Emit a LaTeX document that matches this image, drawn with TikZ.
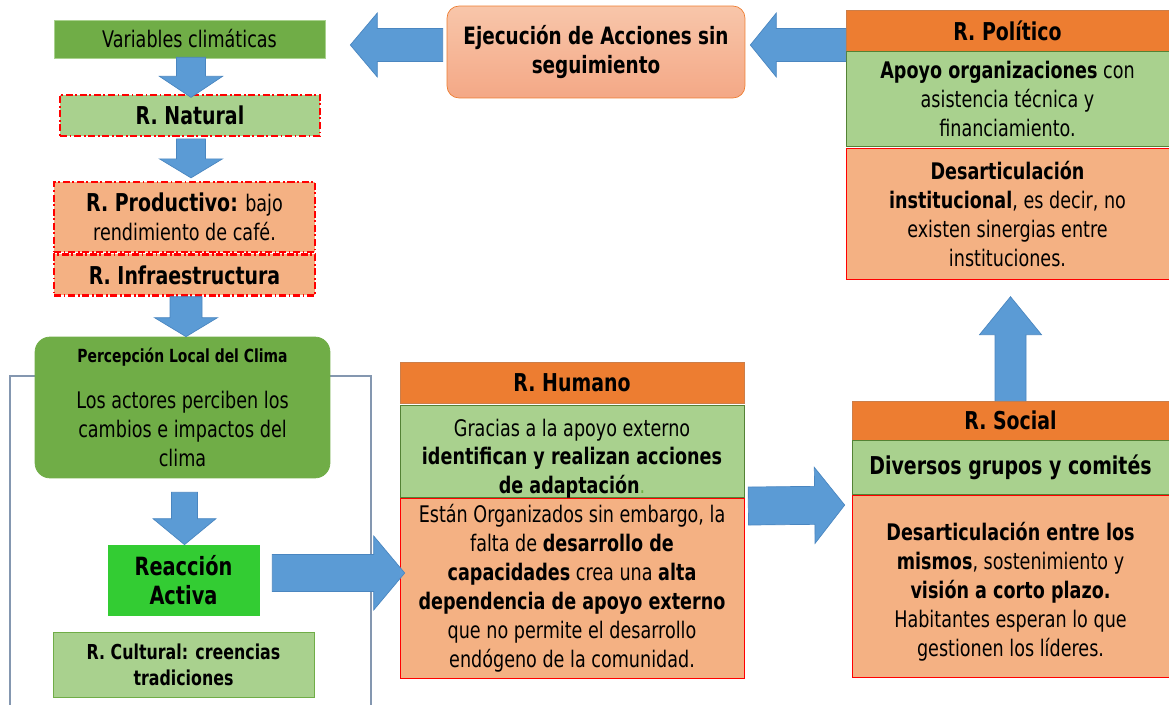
\documentclass[tikz,border=0pt]{standalone}
\usepackage{fontspec}
\setmainfont{DejaVu Sans}[FakeStretch=0.77]
\usepackage{tikz}
\usetikzlibrary{calc}
\usepackage{xcolor}

\definecolor{grdark}{HTML}{70AD47}
\definecolor{grlight}{HTML}{A9D18E}
\definecolor{grline}{HTML}{548235}
\definecolor{orhead}{HTML}{ED7D31}
\definecolor{salmon}{HTML}{F4B183}
\definecolor{grbright}{HTML}{33CC33}
\definecolor{arrblue}{HTML}{5B9BD5}
\definecolor{arrline}{HTML}{4A86C0}
\definecolor{framegray}{HTML}{8497B0}
\definecolor{ejtop}{HTML}{F8C6AA}
\definecolor{ejbot}{HTML}{F4A886}

\tikzset{
  box/.style={draw,inner sep=0pt,align=center,text=black},
  redborder/.style={draw=red,dash pattern=on 4pt off 1.5pt on 1pt off 1.5pt},
  boldtext/.style={font=\fontsize{14}{17}\selectfont\bfseries},
  headbox/.style={box,boldtext,fill=orhead,draw=orhead!70!gray},
  greenbox/.style={box,fill=grlight,draw=grline},
  salmonbox/.style={box,fill=salmon,draw=red},
  arrowfill/.style={fill=arrblue,draw=arrline,line width=0.4pt}
}

% block arrow: start, tip, half shaft, half head, head length
\newcommand{\blockarrow}[5]{%
  \coordinate (hb) at ($(#2)!#5!(#1)$);
  \filldraw[arrowfill] ($(#1)!#3!90:(#2)$) -- ($(hb)!#3!90:(#2)$) -- ($(hb)!#4!90:(#2)$)
    -- (#2) -- ($(hb)!#4!-90:(#2)$) -- ($(hb)!#3!-90:(#2)$) -- ($(#1)!#3!-90:(#2)$) -- cycle;}

\begin{document}
\begin{tikzpicture}[x=0.02cm,y=-0.02cm,font=\fontsize{13}{16.5}\selectfont]
\useasboundingbox (0,0) rectangle (1169,705);

% frame behind the perception block
\draw[framegray,line width=0.6pt] (10,705) -- (10,376) -- (371,376) -- (371,705);

% left column
\node[box,fill=grdark,draw=grlight,minimum width=5.42cm,minimum height=0.76cm] (var) at (189.5,39) {Variables climáticas};
\node[box,redborder,boldtext,fill=grlight,line width=1pt,minimum width=5.2cm,minimum height=0.82cm] (nat) at (190,115.5) {R. Natural};
\node[box,redborder,fill=salmon,line width=1.4pt,minimum width=5.22cm,minimum height=1.4cm] (prod) at (184.5,217) {{\fontsize{14}{17}\selectfont\bfseries R. Productivo:} bajo\\rendimiento de café.};
\node[box,redborder,boldtext,fill=salmon,line width=1.4pt,minimum width=5.22cm,minimum height=0.82cm,anchor=north] (infra) at (prod.south) {R. Infraestructura};
\node[box,fill=grdark,draw=grdark,rounded corners=0.3cm,minimum width=5.9cm,minimum height=2.82cm] (perc) at (182.5,407.5)
  {{\fontsize{10.3}{12}\selectfont\bfseries Percepción Local del Clima}\\[10pt]Los actores perciben los\\cambios e impactos del\\clima};
\node[box,fill=grbright,draw=grbright,minimum width=3.02cm,minimum height=1.4cm,font=\fontsize{14.3}{16.5}\selectfont\bfseries] (react) at (183.5,580) {Reacción\\Activa};
\node[box,fill=grlight,draw=grdark,minimum width=5.22cm,minimum height=1.3cm,font=\fontsize{11.7}{14.8}\selectfont\bfseries] (cult) at (183.5,664.5) {R. Cultural: creencias\\tradiciones};

% top middle
\node[box,draw=orhead,top color=ejtop,bottom color=ejbot,rounded corners=0.24cm,minimum width=5.96cm,minimum height=1.84cm,font=\fontsize{13.6}{17}\selectfont\bfseries] (ejec) at (596,52) {Ejecución de Acciones sin\\seguimiento};

% R. Humano
\node[headbox,minimum width=6.88cm,minimum height=0.82cm] (humhd) at (572,382.5) {R. Humano};
\node[greenbox,minimum width=6.88cm,minimum height=1.84cm,anchor=north] (humgr) at ($(humhd.south)+(0,2)$) {};
\node[salmonbox,minimum width=6.88cm,minimum height=3.6cm,anchor=north] (humor) at (humgr.south)
  {Están Organizados sin embargo, la\\falta de \textbf{desarrollo de}\\\textbf{capacidades} crea una \textbf{alta}\\\textbf{dependencia de apoyo externo}\\que no permite el desarrollo\\endógeno de la comunidad.};
\node[align=center,inner sep=0pt] (humgrtext) at ($(humgr.center)+(0,7)$)
  {Gracias a la apoyo externo\\\textbf{identifican y realizan acciones}\\\textbf{de adaptación}\textcolor{grdark}{.}};

% R. Social
\node[headbox,minimum width=6.34cm,minimum height=0.78cm] (sochd) at (1010.5,420.5) {R. Social};
\node[greenbox,boldtext,minimum width=6.34cm,minimum height=1.08cm,anchor=north] (socgr) at (sochd.south) {Diversos grupos y comités};
\node[salmonbox,minimum width=6.34cm,minimum height=3.64cm,anchor=north] (socor) at (socgr.south)
  {\rule{0pt}{17pt}\textbf{Desarticulación entre los}\\\textbf{mismos}, sostenimiento y\\\textbf{visión a corto plazo.}\\Habitantes esperan lo que\\gestionen los líderes.};

% R. Politico
\node[headbox,minimum width=6.46cm,minimum height=0.82cm] (polhd) at (1007.5,30.5) {R. Político};
\node[greenbox,minimum width=6.46cm,minimum height=1.9cm,anchor=north] (polgr) at (polhd.south)
  {\textbf{Apoyo organizaciones} con\\asistencia técnica y\\financiamiento.};
\node[salmonbox,minimum width=6.46cm,minimum height=2.62cm,anchor=north] (polor) at ($(polgr.south)+(0,1)$)
  {\textbf{Desarticulación}\\\textbf{institucional}, es decir, no\\existen sinergias entre\\instituciones.};

% arrow ends
\coordinate (a1s) at ($(var.south)+(1.5,-1)$);
\coordinate (a1e) at ($(var.south)+(1.5,39)$);
\coordinate (a2s) at ($(nat.south)+(1,2)$);
\coordinate (a2e) at ($(nat.south)+(1,41)$);
\coordinate (a3s) at ($(infra.south)+(1.5,0)$);
\coordinate (a3e) at ($(infra.south|-perc.north)+(1.5,0)$);
\coordinate (a4s) at ($(perc.south)+(2,14)$);
\coordinate (a4e) at ($(perc.south|-react.north)+(2,0)$);
\coordinate (a5s) at ($(react.east)+(13,-7)$);
\coordinate (a5e) at ($(react.east-|humor.west)+(5,-7)$);
\coordinate (a6s) at ($(humor.north east)+(4,8)$);
\coordinate (a6e) at ($(socor.north west)+(-7,10)$);
\coordinate (a7s) at (sochd.north);
\coordinate (a7e) at ($(polor.south)+(3,17)$);
\coordinate (a8s) at ($(polhd.west)+(0,14.5)$);
\coordinate (a8e) at ($(ejec.east)+(5,-7)$);
\coordinate (a9s) at ($(ejec.west)+(-4,-7)$);
\coordinate (a9e) at ($(var.east)+(25,6)$);

\blockarrow{a1s}{a1e}{0.29cm}{0.63cm}{0.42cm}
\blockarrow{a2s}{a2e}{0.29cm}{0.63cm}{0.38cm}
\blockarrow{a3s}{a3e}{0.32cm}{0.63cm}{0.38cm}
\blockarrow{a4s}{a4e}{0.26cm}{0.63cm}{0.52cm}
\blockarrow{a5s}{a5e}{0.37cm}{0.74cm}{0.62cm}
\blockarrow{a6s}{a6e}{0.38cm}{0.76cm}{0.60cm}
\blockarrow{a7s}{a7e}{0.31cm}{0.62cm}{0.76cm}
\blockarrow{a8s}{a8e}{0.33cm}{0.64cm}{0.52cm}
\blockarrow{a9s}{a9e}{0.33cm}{0.64cm}{0.54cm}
\end{tikzpicture}
\end{document}
